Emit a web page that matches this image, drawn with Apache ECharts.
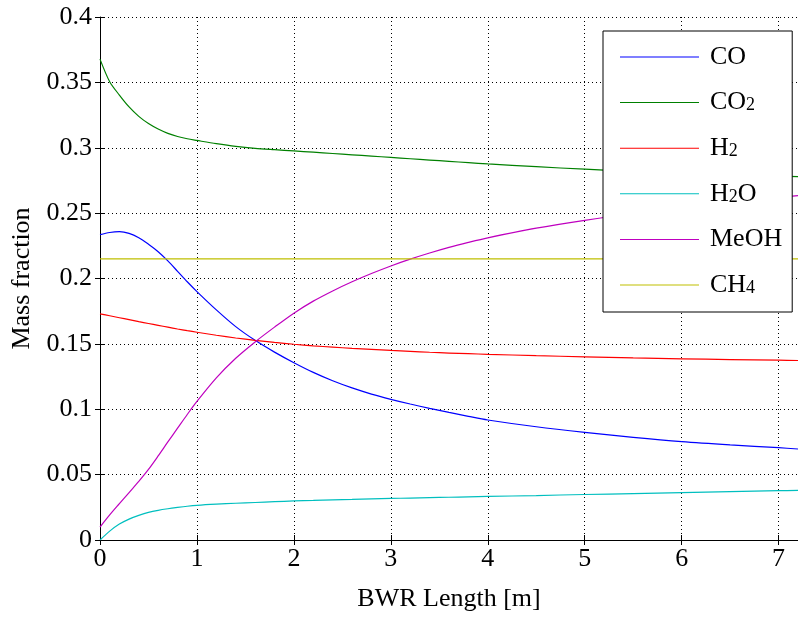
<!DOCTYPE html>
<html>
<head>
<meta charset="utf-8">
<script src="https://cdn.jsdelivr.net/npm/echarts@6/dist/echarts.min.js"></script>
<style>html,body{margin:0;padding:0;background:#fff}#c{width:798px;height:618px}</style>
</head>
<body>
<div id="c"></div>
<script>
const xLen = [0, 0.1, 0.2, 0.3, 0.4, 0.5, 0.6, 0.7, 0.8, 0.9, 1.0, 1.2, 1.4, 1.6, 1.8, 2.0, 2.2, 2.4, 2.6, 2.8, 3.0, 3.2, 3.4, 3.6, 3.8, 4.0, 4.5, 5.0, 5.5, 6.0, 6.5, 7.0, 7.2];
const CO   = [0.2335, 0.2352, 0.2358, 0.2345, 0.2312, 0.2262, 0.2205, 0.2135, 0.2055, 0.1975, 0.1900, 0.1760, 0.1632, 0.1527, 0.1437, 0.1356, 0.1282, 0.1218, 0.1163, 0.1116, 0.1076, 0.1040, 0.1007, 0.0976, 0.0946, 0.0918, 0.0866, 0.0823, 0.0785, 0.0752, 0.0727, 0.0706, 0.0696];
const CO2  = [0.3678, 0.3505, 0.3403, 0.3312, 0.3240, 0.3185, 0.3143, 0.3110, 0.3086, 0.3069, 0.3056, 0.3031, 0.3010, 0.2995, 0.2985, 0.2976, 0.2966, 0.2956, 0.2946, 0.2936, 0.2926, 0.2916, 0.2906, 0.2896, 0.2886, 0.2876, 0.2855, 0.2836, 0.2819, 0.2805, 0.2792, 0.2782, 0.2779];
const H2   = [0.1730, 0.1715, 0.1700, 0.1685, 0.1670, 0.1656, 0.1642, 0.1628, 0.1614, 0.1601, 0.1589, 0.1566, 0.1545, 0.1527, 0.1511, 0.1497, 0.1485, 0.1475, 0.1466, 0.1458, 0.1450, 0.1443, 0.1436, 0.1430, 0.1425, 0.1420, 0.1410, 0.1401, 0.1393, 0.1386, 0.1380, 0.1375, 0.1373];
const H2O  = [0.0000, 0.0068, 0.0122, 0.0160, 0.0188, 0.0211, 0.0227, 0.0239, 0.0249, 0.0258, 0.0265, 0.0274, 0.0281, 0.0287, 0.0293, 0.0299, 0.0303, 0.0307, 0.0311, 0.0315, 0.0318, 0.0321, 0.0324, 0.0327, 0.0330, 0.0333, 0.0340, 0.0348, 0.0355, 0.0363, 0.0370, 0.0377, 0.0380];
const MeOH = [0.0099, 0.0192, 0.0278, 0.0363, 0.0448, 0.0540, 0.0643, 0.0750, 0.0855, 0.0960, 0.1060, 0.1240, 0.1390, 0.1515, 0.1628, 0.1735, 0.1827, 0.1905, 0.1975, 0.2038, 0.2096, 0.2148, 0.2195, 0.2238, 0.2276, 0.2311, 0.2385, 0.2445, 0.2497, 0.2543, 0.2582, 0.2620, 0.2634];
const CH4  = [0.215, 0.215, 0.215, 0.215, 0.215, 0.215, 0.215, 0.215, 0.215, 0.215, 0.215, 0.215, 0.215, 0.215, 0.215, 0.215, 0.215, 0.215, 0.215, 0.215, 0.215, 0.215, 0.215, 0.215, 0.215, 0.215, 0.215, 0.215, 0.215, 0.215, 0.215, 0.215, 0.215];
const seriesNames = ['CO', 'CO2', 'H2', 'H2O', 'MeOH', 'CH4'];
const seriesData = [CO, CO2, H2, H2O, MeOH, CH4];
const colors = ['#0000ff', '#008000', '#ff0000', '#00bfbf', '#bf00bf', '#bfbf00'];
const legendRich = {
  'CO': '{n|CO}',
  'CO2': '{n|CO}{s|2}',
  'H2': '{n|H}{s|2}',
  'H2O': '{n|H}{s|2}{n|O}',
  'MeOH': '{n|MeOH}',
  'CH4': '{n|CH}{s|4}'
};
const FONT = 'Liberation Serif';
const FS = 26;

const chart = echarts.init(document.getElementById('c'), null, {renderer: 'canvas'});
const tickFmt = v => {
  if (Math.abs(v - Math.round(v * 100) / 100) > 1e-9) return '';
  return String(parseFloat(v.toFixed(2)));
};
const xFmt = v => (Math.abs(v - Math.round(v)) < 1e-9 ? String(Math.round(v)) : '');
const dotted = {show: true, lineStyle: {color: '#000', type: [1, 3], width: 1}};

chart.setOption({
  animation: false,
  backgroundColor: '#fff',
  color: colors,
  grid: {left: 100, right: -1, top: 17, bottom: 78, containLabel: false},
  legend: {
    orient: 'vertical',
    left: 603, top: 31,
    padding: [13, 10, 14, 17],
    backgroundColor: '#fff',
    borderColor: '#000', borderWidth: 1, borderRadius: 0,
    itemWidth: 79, itemHeight: 10, itemGap: 19.6,
    data: seriesNames.map(n => ({name: n, icon: 'path://M0,5L79,5L79,6L0,6Z'})),
    formatter: n => legendRich[n],
    textStyle: {
      padding: [0, 0, 0, 6],
      rich: {
        n: {fontFamily: FONT, fontSize: FS, lineHeight: 24, color: '#000', verticalAlign: 'middle'},
        s: {fontFamily: FONT, fontSize: 18, lineHeight: 14, color: '#000', verticalAlign: 'bottom'}
      }
    }
  },
  xAxis: [{
    type: 'value', min: 0, max: 7.2, interval: 1,
    position: 'bottom',
    name: 'BWR Length [m]', nameLocation: 'middle', nameGap: 46,
    nameTextStyle: {fontFamily: FONT, fontSize: FS, color: '#000'},
    axisLine: {show: true, lineStyle: {color: '#000', width: 1}},
    axisTick: {show: true, inside: true, length: 5, lineStyle: {color: '#000'}},
    axisLabel: {fontFamily: FONT, fontSize: FS, color: '#000', margin: 6, formatter: xFmt, showMaxLabel: false},
    splitLine: dotted
  }, {
    type: 'value', min: 0, max: 7.2, interval: 1,
    position: 'top',
    axisLine: {show: true, lineStyle: {color: '#000', width: 1}},
    axisTick: {show: true, inside: true, length: 5, lineStyle: {color: '#000'}},
    axisLabel: {show: false},
    splitLine: {show: false}
  }],
  yAxis: [{
    type: 'value', min: 0, max: 0.4, interval: 0.05,
    position: 'left',
    name: 'Mass fraction', nameLocation: 'middle', nameGap: 64,
    nameTextStyle: {fontFamily: FONT, fontSize: FS, color: '#000'},
    axisLine: {show: true, lineStyle: {color: '#000', width: 1}},
    axisTick: {show: true, inside: true, length: 5, lineStyle: {color: '#000'}},
    axisLabel: {fontFamily: FONT, fontSize: FS, color: '#000', margin: 8, formatter: tickFmt},
    splitLine: dotted
  }, {
    type: 'value', min: 0, max: 0.4, interval: 0.05,
    position: 'right',
    axisLine: {show: false},
    axisTick: {show: true, inside: true, length: 5, lineStyle: {color: '#000'}},
    axisLabel: {show: false},
    splitLine: {show: false}
  }],
  series: seriesNames.map((n, i) => ({
    name: n,
    type: 'line',
    smooth: 0.3,
    symbol: 'none',
    lineStyle: {width: 1.2, color: colors[i]},
    data: xLen.map((x, j) => [x, seriesData[i][j]]),
    z: 3
  }))
});
</script>
</body>
</html>
